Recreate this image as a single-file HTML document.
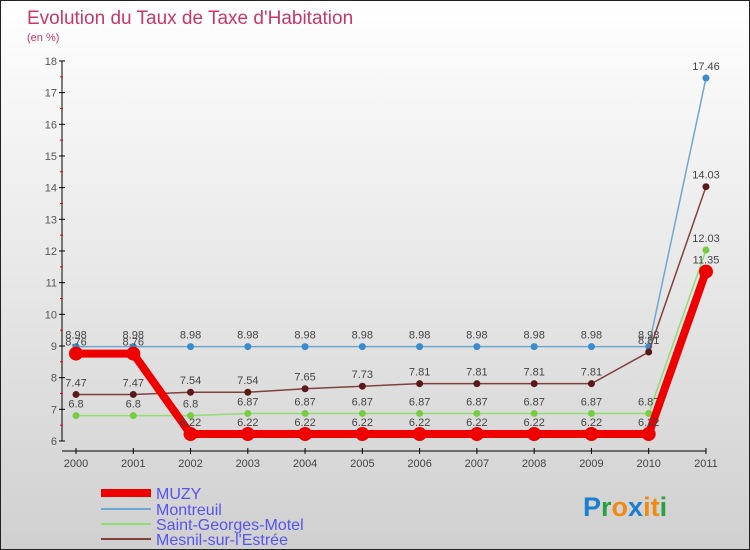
<!DOCTYPE html>
<html><head><meta charset="utf-8"><style>
body{margin:0}
#c{width:748px;height:548px;border:1px solid #222;background:linear-gradient(#fff,#d0d0d0);position:relative;font-family:"Liberation Sans",sans-serif;overflow:hidden}
</style></head><body>
<div id="c">
<svg id="s" width="748" height="548" xmlns="http://www.w3.org/2000/svg">
<text x="26" y="23" font-size="19" fill="#c8376a">Evolution du Taux de Taxe d'Habitation</text>
<text x="26" y="40" font-size="11" fill="#c8376a">(en %)</text>
<g id="axes"></g><g id="series"></g>
<g font-size="16" fill="#5555ee">
<line x1="100" y1="492" x2="150" y2="492" stroke="#ee0000" stroke-width="8"/>
<text x="155" y="498">MUZY</text>
<line x1="100" y1="508" x2="150" y2="508" stroke="#6fa8d0" stroke-width="2"/>
<text x="155" y="514">Montreuil</text>
<line x1="100" y1="523" x2="150" y2="523" stroke="#90dd70" stroke-width="2"/>
<text x="155" y="529">Saint-Georges-Motel</text>
<line x1="100" y1="538" x2="150" y2="538" stroke="#804040" stroke-width="2"/>
<text x="155" y="544">Mesnil-sur-l'Estrée</text>
</g>
<text x="582" y="515" font-size="27" font-weight="bold"><tspan fill="#1a7fd0">P</tspan><tspan fill="#2aa040">r</tspan><tspan fill="#f08a10">o</tspan><tspan fill="#1a7fd0">x</tspan><tspan fill="#f08a10">i</tspan><tspan fill="#f08a10">t</tspan><tspan fill="#2aa040">i</tspan></text>
</svg>
</div>
<script>
const years=["2000","2001","2002","2003","2004","2005","2006","2007","2008","2009","2010","2011"];
const muzy=[8.76,8.76,6.22,6.22,6.22,6.22,6.22,6.22,6.22,6.22,6.22,11.35];
const montreuil=[8.98,8.98,8.98,8.98,8.98,8.98,8.98,8.98,8.98,8.98,8.98,17.46];
const stGeorges=[6.8,6.8,6.8,6.87,6.87,6.87,6.87,6.87,6.87,6.87,6.87,12.03];
const mesnil=[7.47,7.47,7.54,7.54,7.65,7.73,7.81,7.81,7.81,7.81,8.81,14.03];
const yTicks=[6,7,8,9,10,11,12,13,14,15,16,17,18];
const NS="http://www.w3.org/2000/svg";
const X=i=>75+i*57.27, Y=v=>440-(v-6)*31.67;
function mk(p,t,a){const e=document.createElementNS(NS,t);for(const k in a)e.setAttribute(k,a[k]);p.appendChild(e);return e;}
const ax=document.getElementById('axes'), sr=document.getElementById('series');
let l=mk(ax,'line',{x1:61,y1:Y(18),x2:61,y2:Y(6),stroke:'#000'});


l=mk(ax,'line',{x1:61,y1:450,x2:705,y2:450,stroke:'#000'});


yTicks.forEach(v=>{
 mk(ax,'line',{x1:58,y1:Y(v),x2:64,y2:Y(v),stroke:'#000'});
 if(v<18) mk(ax,'line',{x1:59,y1:Y(v+0.5),x2:62,y2:Y(v+0.5),stroke:'#e00'});
 const t=mk(ax,'text',{x:56,y:Y(v)+4,'font-size':11,fill:'#555','text-anchor':'end'});t.textContent=v;
 
 
});
years.forEach((y,i)=>{
 mk(ax,'line',{x1:X(i),y1:447,x2:X(i),y2:453,stroke:'#000'});
 const t=mk(ax,'text',{x:X(i),y:466,'font-size':11,fill:'#444','text-anchor':'middle'});t.textContent=y;
 
 
});
function series(d,col,w,r,name,dot){
 const g=mk(sr,'g',{});
 
 
 mk(g,'polyline',{points:d.map((v,i)=>X(i)+','+Y(v)).join(' '),fill:'none',stroke:col,'stroke-width':w,'stroke-linejoin':'round'});
 d.forEach((v,i)=>{
  const c=mk(g,'circle',{cx:X(i),cy:Y(v),r:r,fill:dot});
  
  
  const t=mk(g,'text',{x:X(i),y:Y(v)-8,'font-size':11,fill:'#444','text-anchor':'middle'});t.textContent=v;
  
  
 });
}
series(montreuil,'#6fa8d0',1.5,3.5,'montreuil','#3a8ccc');
series(stGeorges,'#90dd70',1.5,3.5,'saint-georges','#77cc44');
series(mesnil,'#804040',1.5,3.5,'mesnil','#5a1a1a');
series(muzy,'#ee0000',8,7,'muzy','#ee0000');
</script>
</body></html>
